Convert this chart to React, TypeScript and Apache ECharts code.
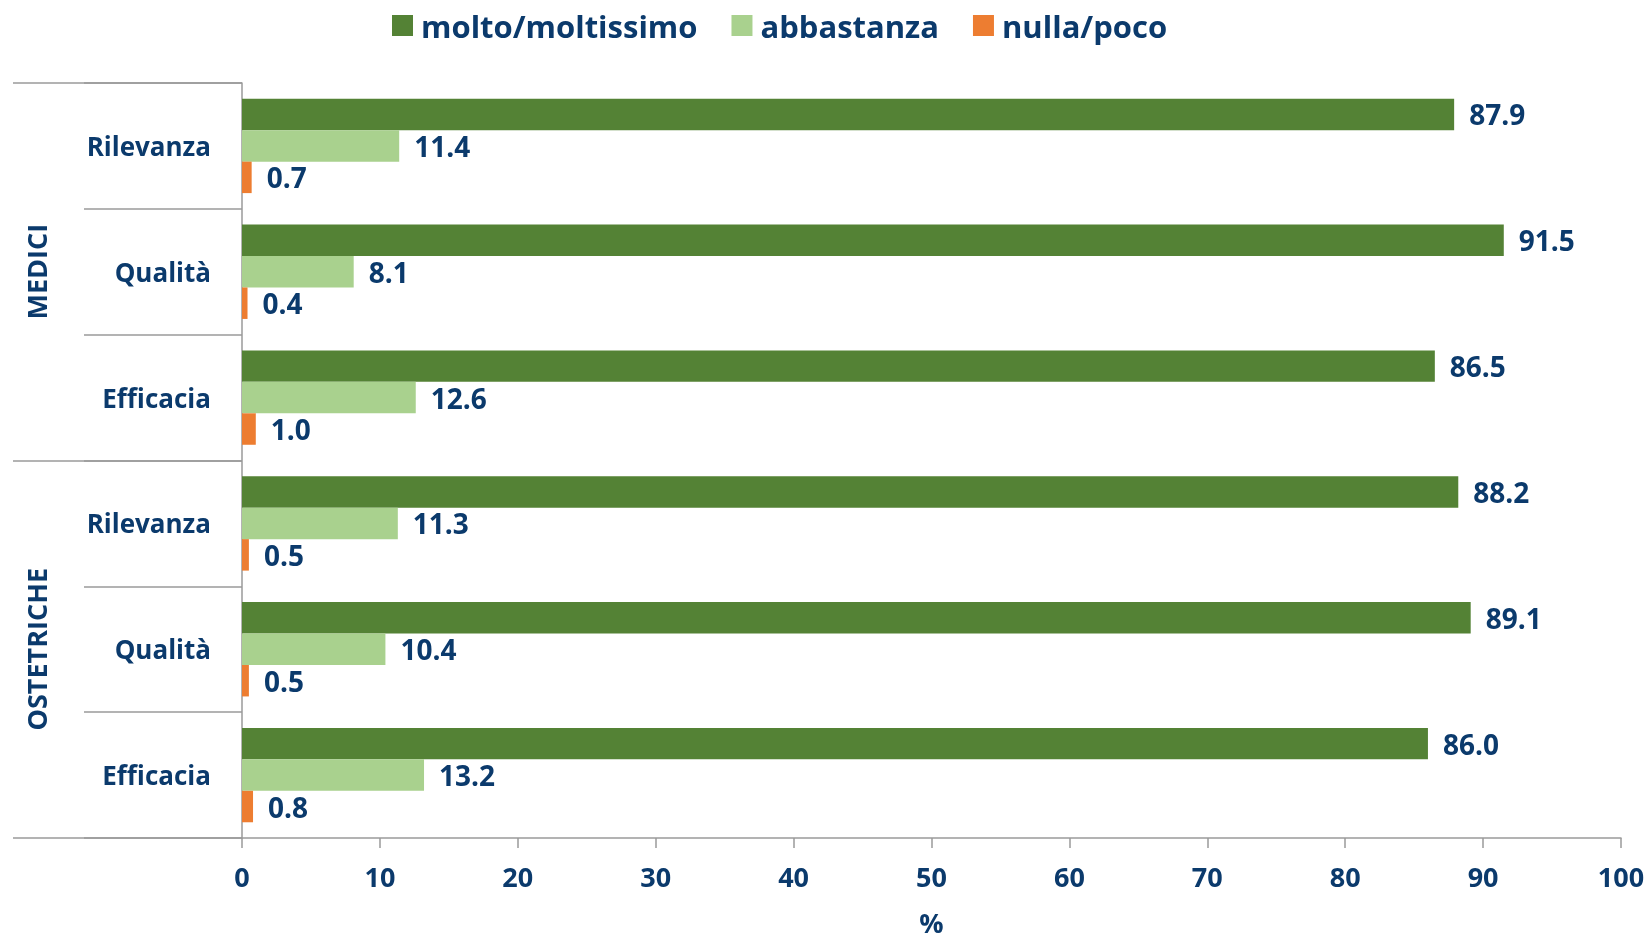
import React, { useEffect, useRef } from "react";
import * as echarts from "echarts";

const groups = ["MEDICI", "OSTETRICHE"];
const categories = ["Rilevanza", "Qualità", "Efficacia", "Rilevanza", "Qualità", "Efficacia"];
const seriesNames = ["molto/moltissimo", "abbastanza", "nulla/poco"];
const moltoValues = [87.9, 91.5, 86.5, 88.2, 89.1, 86.0];
const abbastanzaValues = [11.4, 8.1, 12.6, 11.3, 10.4, 13.2];
const nullaValues = [0.7, 0.4, 1.0, 0.5, 0.5, 0.8];
const xTicks = { min: 0, max: 100, interval: 10 };
const axisTitle = "%";

const TEXT = "#0B3A6C";
const GREY = "#9A9A9A";
const FONT = "Open Sans";
const colors = ["#548235", "#A9D18E", "#ED7D31"];

export default function App() {
  const ref = useRef<HTMLDivElement>(null);
  useEffect(() => {
    document.body.style.margin = "0";
    const chart = echarts.init(ref.current!, null, { renderer: "svg" });
    const values = [moltoValues, abbastanzaValues, nullaValues];
    const catData = categories.map((c, i) => ({ value: i + "|" + c }));
    chart.setOption({
      animation: false,
      textStyle: { fontFamily: FONT },
      legend: {
        left: 387,
        top: 5,
        itemWidth: 21,
        itemHeight: 21,
        itemGap: 34,
        icon: "rect",
        data: seriesNames,
        textStyle: {
          color: TEXT,
          fontFamily: FONT,
          fontWeight: "bold",
          fontSize: 31,
          padding: [0, 0, 0, 3],
        },
      },
      grid: { left: 242, width: 1379, top: 83, height: 760, containLabel: false },
      xAxis: {
        type: "value",
        min: xTicks.min,
        max: xTicks.max,
        interval: xTicks.interval,
        name: axisTitle,
        nameLocation: "middle",
        nameGap: 71,
        nameTextStyle: { color: TEXT, fontFamily: FONT, fontWeight: "bold", fontSize: 27 },
        axisLine: { show: true, lineStyle: { color: GREY, width: 1.5 } },
        axisTick: { show: true, length: 10, lineStyle: { color: GREY, width: 1.5 } },
        splitLine: { show: false },
        axisLabel: { color: TEXT, fontFamily: FONT, fontWeight: "bold", fontSize: 27, margin: 25 },
      },
      yAxis: [
        {
          type: "category",
          inverse: true,
          data: catData,
          axisLine: { show: true, lineStyle: { color: GREY, width: 1.5 } },
          axisTick: { show: true, length: 158, lineStyle: { color: GREY, width: 1.5 } },
          axisLabel: {
            color: TEXT,
            fontFamily: FONT,
            fontWeight: "bold",
            fontSize: 26,
            margin: 31,
            formatter: (v: string) => v.split("|")[1],
          },
        },
        {
          type: "category",
          inverse: true,
          position: "left",
          data: groups,
          axisLine: { show: false },
          axisTick: { show: true, length: 229, lineStyle: { color: GREY, width: 1.5 } },
          axisLabel: {
            color: TEXT,
            fontFamily: FONT,
            fontWeight: "bold",
            fontSize: 27,
            rotate: 90,
            margin: 192,
          },
        },
      ],
      series: seriesNames.map((name, i) => ({
        name,
        type: "bar",
        yAxisIndex: 0,
        data: values[i],
        barGap: "0%",
        barCategoryGap: "25%",
        itemStyle: { color: colors[i] },
        label: {
          show: true,
          position: "right",
          distance: 15,
          color: TEXT,
          fontFamily: FONT,
          fontWeight: "bold",
          fontSize: 28,
          formatter: (p: any) => Number(p.value).toFixed(1),
        },
      })),
    });
    const onResize = () => chart.resize();
    window.addEventListener("resize", onResize);
    return () => {
      window.removeEventListener("resize", onResize);
      chart.dispose();
    };
  }, []);
  return (
    <div
      ref={ref}
      style={{ position: "fixed", left: 0, top: 0, width: "100vw", height: "100vh" }}
    />
  );
}
